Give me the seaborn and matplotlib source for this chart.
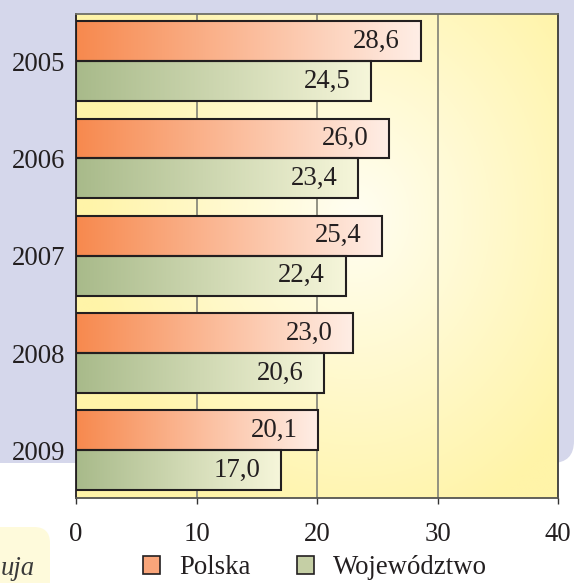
import numpy as np
import pandas as pd
import matplotlib
matplotlib.use("Agg")
import matplotlib.pyplot as plt
import seaborn as sns
from matplotlib.patches import FancyBboxPatch, Rectangle
from matplotlib.colors import LinearSegmentedColormap, to_rgb

# ---- data ----
years = ["2005", "2006", "2007", "2008", "2009"]
polska = [28.6, 26.0, 25.4, 23.0, 20.1]
wojewodztwo = [24.5, 23.4, 22.4, 20.6, 17.0]
series_names = ["Polska", "Województwo"]
x_ticks = [0, 10, 20, 30, 40]

df = pd.DataFrame({
    "year": years * 2,
    "value": polska + wojewodztwo,
    "series": [series_names[0]] * len(years) + [series_names[1]] * len(years),
})

sns.set_theme(style="white")
plt.rcParams["font.family"] = ["Liberation Serif", "DejaVu Serif"]
FS = 19.3
TXT = "#231F20"

fig = plt.figure(figsize=(5.75, 5.83), dpi=100)
fig.patch.set_facecolor("white")

# lavender panel (inches)
panel = FancyBboxPatch((-0.5, 1.20), 5.74 + 0.5, 6.0, boxstyle="round,pad=0,rounding_size=0.22",
                       transform=fig.dpi_scale_trans, facecolor="#D5D7EB", edgecolor="none", zorder=-5)
fig.patches.append(panel)
# yellow box bottom-left
ybox = FancyBboxPatch((-0.5, -0.5), 1.0, 1.06, boxstyle="round,pad=0,rounding_size=0.16",
                      transform=fig.dpi_scale_trans, facecolor="#FEFADB", edgecolor="none", zorder=-5)
fig.patches.append(ybox)
fig.text(0.001, 0.013, "uja", transform=fig.transFigure, fontsize=FS, style="italic",
         color="#3a3a3a", ha="left", va="baseline")

ax = fig.add_axes([76 / 575, 85 / 583, 482 / 575, 484.5 / 583])
ax.set_facecolor("none")
ax.set_zorder(1)

pal = {series_names[0]: "#F9A57A", series_names[1]: "#C5CFA5"}
sns.barplot(data=df, y="year", x="value", hue="series", orient="h", width=0.82,
            palette=pal, edgecolor=TXT, linewidth=1.5, ax=ax, legend=False, zorder=3)

YLIM = (4.49, -0.49)
XLIM = (0, 40)

# background radial gradient
ny, nx = 200, 200
gx, gy = np.meshgrid(np.linspace(0, 1, nx), np.linspace(0, 1, ny))
d = np.sqrt(((gx - 0.58) / 0.75) ** 2 + ((gy - 0.42) / 0.9) ** 2)
d = np.clip(d / 0.75, 0, 1)
c_in = np.array(to_rgb("#FFFEF2"))
c_out = np.array(to_rgb("#FFF4A8"))
bg = c_in[None, None, :] * (1 - d[..., None]) + c_out[None, None, :] * d[..., None]
ax.imshow(bg, extent=[XLIM[0], XLIM[1], YLIM[0], YLIM[1]], origin="upper", aspect="auto", zorder=0)

# gridlines
for xv in x_ticks[1:-1]:
    ax.axvline(xv, color="#8A8A7C", lw=1.3, zorder=1)

# gradient bars
grads = [("#F7894E", "#FFEEE6"), ("#A8BA8A", "#F6F6DA")]
for ci, cont in enumerate(ax.containers):
    cmap = LinearSegmentedColormap.from_list("g%d" % ci, list(grads[ci]))
    g = np.linspace(0, 1, 256)[None, :]
    for p in cont.patches:
        bb = p.get_bbox()
        im = ax.imshow(g, cmap=cmap, extent=[bb.x0, bb.x1, bb.y1, bb.y0], aspect="auto",
                       zorder=2.5, vmin=0, vmax=1)
        im.set_clip_path(p)
        p.set_facecolor("none")
    vals = polska if ci == 0 else wojewodztwo
    labels = [f"{v:.1f}".replace(".", ",") for v in vals]
    texts = ax.bar_label(cont, labels=labels, padding=-15, fontsize=FS, color=TXT)
    for t in texts:
        t.set_ha("right")

ax.set_xlim(*XLIM)
ax.set_ylim(*YLIM)
ax.set_xticks(x_ticks)
ax.set_xticklabels([str(v) for v in x_ticks])
ax.set_xlabel("")
ax.set_ylabel("")
ax.tick_params(axis="x", bottom=True, direction="out", length=4, width=1, color="#333333",
               labelsize=FS, labelcolor=TXT, pad=13)
ax.tick_params(axis="y", left=False, length=0, labelsize=FS, labelcolor=TXT, pad=8)

for s, c in [("left", "#231F20"), ("bottom", "#555550"), ("top", "#6E6E66"), ("right", "#3A3A3A")]:
    ax.spines[s].set_visible(True)
    ax.spines[s].set_color(c)
    ax.spines[s].set_linewidth(1.3)
    ax.spines[s].set_zorder(4)

handles = [Rectangle((0, 0), 1, 1, facecolor=pal[n], edgecolor=TXT, linewidth=1.2) for n in series_names]
fig.legend(handles, series_names, loc="center left", bbox_to_anchor=(143 / 575, 1 - 568 / 583),
           ncol=2, frameon=False, fontsize=FS, handlelength=0.62, handleheight=0.62,
           handletextpad=0.72, columnspacing=1.75, borderpad=0, borderaxespad=0,
           labelcolor=TXT)

fig.savefig("out.png", dpi=100)
